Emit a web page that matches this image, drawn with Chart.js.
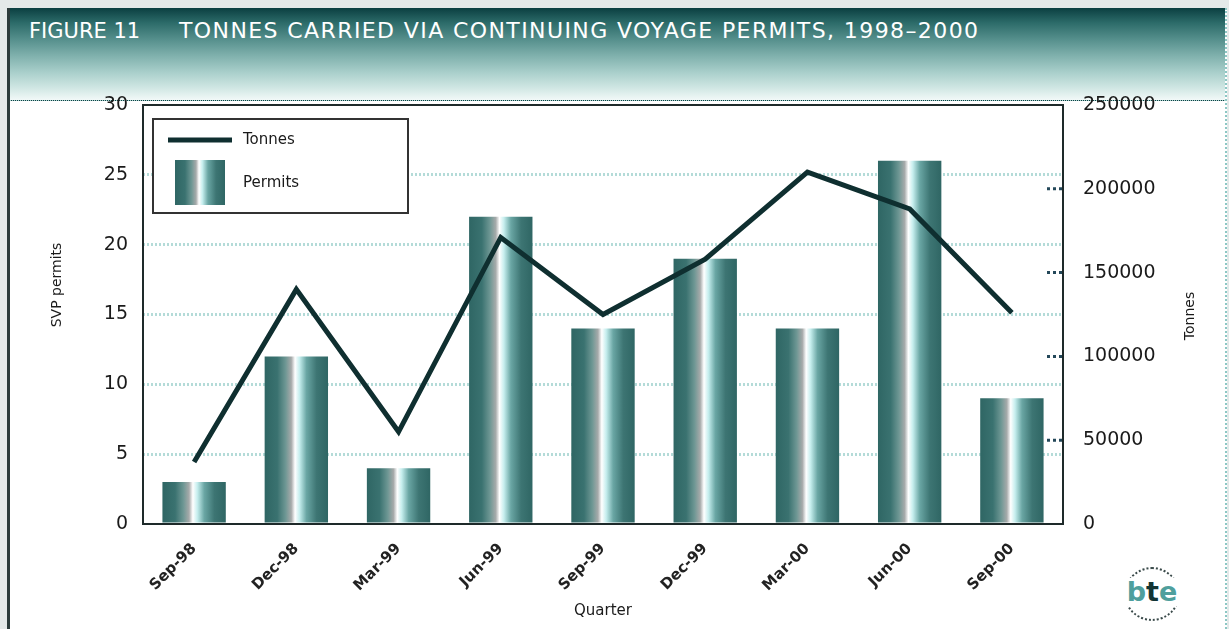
<!DOCTYPE html>
<html>
<head>
<meta charset="utf-8">
<script src="https://cdn.jsdelivr.net/npm/chart.js@4"></script>
<style>
    html, body { margin: 0; padding: 0; }
    body { width: 1229px; height: 629px; background: #e4e9e9; position: relative; overflow: hidden; font-family: 'DejaVu Sans', sans-serif; }
    #panel { position: absolute; left: 7px; top: 8px; width: 1215px; height: 621px; background: #fff; border-left: 3px solid #2c3b3b; border-right: 2px dotted #8cc7c4; }
    #head { position: absolute; left: 0; top: 0; right: 0; height: 92px;
        background: linear-gradient(to bottom, #0b3f41 0%, #2c6b69 16%, #558f8c 34%, #80b1ad 52%, #a9cfcb 70%, #d3e8e5 88%, #f2f9f8 100%);
        border-bottom: 1px dotted #a8cfcc; }
    #fig { position: absolute; left: 19px; top: 11px; color: #fff; font-size: 21px; white-space: pre; }
    #title { position: absolute; left: 169px; top: 10px; color: #fff; font-size: 22px; white-space: pre; letter-spacing: 1.4px; }
    #logo { position: absolute; left: 1124px; top: 567px; width: 52px; height: 50px; border: 2px dotted #3a4a4a; border-radius: 50%; }
    #logo div { position: absolute; left: -8px; top: 9px; width: 68px; text-align: center; font: bold 27px 'DejaVu Sans', sans-serif; color: #4f9f9d; background: #fff; line-height: 28px; }
    #logo b { color: #123434; }
    canvas { position: absolute; left: 0; top: 0; }
</style>
</head>
<body>
<div id="panel">
    <div id="head">
        <div id="fig">FIGURE 11</div>
        <div id="title">TONNES CARRIED VIA CONTINUING VOYAGE PERMITS, 1998–2000</div>
    </div>
</div>
<div id="logo"><div>b<b>t</b>e</div></div>
<canvas id="chart" width="1229" height="629"></canvas>
<script>
var quarters = ['Sep-98', 'Dec-98', 'Mar-99', 'Jun-99', 'Sep-99', 'Dec-99', 'Mar-00', 'Jun-00', 'Sep-00'];
var permits = [3, 12, 4, 22, 14, 19, 14, 26, 9];
var tonnes = [37000, 140000, 55000, 171000, 125000, 158000, 210000, 188000, 126000];
var permitTicks = [0, 5, 10, 15, 20, 25, 30];
var tonneTicks = [0, 50000, 100000, 150000, 200000, 250000];

var LINE = '#0f2f30';
var BAR_SHARE = 0.62;

function barGradient(ctx, x0, x1) {
    var g = ctx.createLinearGradient(x0, 0, x1, 0);
    g.addColorStop(0, '#2f6664');
    g.addColorStop(0.2, '#3a7270');
    g.addColorStop(0.33, '#6e9794');
    g.addColorStop(0.42, '#a6aaaa');
    g.addColorStop(0.48, '#ffffff');
    g.addColorStop(0.55, '#c6eeee');
    g.addColorStop(0.66, '#6aa6a4');
    g.addColorStop(0.82, '#3d7573');
    g.addColorStop(1, '#2f6664');
    return g;
}

Chart.defaults.font.family = "'DejaVu Sans', sans-serif";
Chart.defaults.color = '#1a1a1a';

var extras = {
    id: 'extras',
    afterDraw: function (chart) {
        var ctx = chart.ctx;
        var a = chart.chartArea;
        var y1 = chart.scales.y1;
        ctx.save();

        // dotted tick marks inside the right axis
        ctx.strokeStyle = '#24485a';
        ctx.lineWidth = 3;
        ctx.setLineDash([3, 3]);
        tonneTicks.forEach(function (v) {
            if (v === 0 || v === 250000) return;
            var y = y1.getPixelForValue(v);
            ctx.beginPath();
            ctx.moveTo(a.right - 16, y);
            ctx.lineTo(a.right, y);
            ctx.stroke();
        });
        ctx.setLineDash([]);

        // plot frame
        ctx.strokeStyle = '#1e2a2a';
        ctx.lineWidth = 2;
        ctx.strokeRect(a.left, a.top, a.right - a.left, a.bottom - a.top);

        // axis titles
        ctx.fillStyle = '#1a1a1a';
        ctx.font = "14px 'DejaVu Sans', sans-serif";
        ctx.textAlign = 'center';
        ctx.textBaseline = 'middle';
        ctx.translate(57, 285);
        ctx.rotate(-Math.PI / 2);
        ctx.fillText('SVP permits', 0, 0);
        ctx.setTransform(1, 0, 0, 1, 0, 0);
        ctx.translate(1190, 316);
        ctx.rotate(-Math.PI / 2);
        ctx.fillText('Tonnes', 0, 0);
        ctx.setTransform(1, 0, 0, 1, 0, 0);

        // legend box
        var lx = a.left + 10, ly = a.top + 14;
        ctx.fillStyle = '#fff';
        ctx.fillRect(lx, ly, 255, 94);
        ctx.strokeStyle = '#333';
        ctx.lineWidth = 2;
        ctx.strokeRect(lx, ly, 255, 94);
        ctx.strokeStyle = LINE;
        ctx.lineWidth = 5;
        ctx.beginPath();
        ctx.moveTo(lx + 15, ly + 21);
        ctx.lineTo(lx + 79, ly + 21);
        ctx.stroke();
        ctx.fillStyle = barGradient(ctx, lx + 22, lx + 72);
        ctx.fillRect(lx + 22, ly + 41, 50, 45);
        ctx.fillStyle = '#1a1a1a';
        ctx.font = "15px 'DejaVu Sans', sans-serif";
        ctx.textAlign = 'left';
        ctx.fillText(chart.data.datasets[0].label, lx + 90, ly + 21);
        ctx.fillText(chart.data.datasets[1].label, lx + 90, ly + 64);
        ctx.restore();
    }
};

new Chart(document.getElementById('chart').getContext('2d'), {
    data: {
        labels: quarters,
        datasets: [
            {
                type: 'line',
                label: 'Tonnes',
                data: tonnes,
                yAxisID: 'y1',
                borderColor: LINE,
                borderWidth: 5,
                pointRadius: 0,
                tension: 0,
                order: 0
            },
            {
                type: 'bar',
                label: 'Permits',
                data: permits,
                yAxisID: 'y',
                barPercentage: BAR_SHARE,
                categoryPercentage: 1,
                backgroundColor: function (c) {
                    var xs = c.chart.scales.x;
                    if (!xs || typeof c.dataIndex !== 'number') return '#336b68';
                    var cx = xs.getPixelForValue(c.dataIndex);
                    var w = xs.width / quarters.length * BAR_SHARE;
                    if (!isFinite(cx) || !isFinite(w) || w <= 0) return '#336b68';
                    return barGradient(c.chart.ctx, cx - w / 2, cx + w / 2);
                },
                borderWidth: 0,
                order: 1
            }
        ]
    },
    options: {
        responsive: false,
        animation: false,
        layout: { padding: { top: 105, left: 0, right: 0, bottom: 0 } },
        plugins: {
            legend: { display: false },
            tooltip: { enabled: false }
        },
        scales: {
            x: {
                offset: true,
                afterFit: function (s) { s.height = 105; },
                grid: { display: false },
                border: { display: false },
                ticks: { maxRotation: 45, minRotation: 45, padding: 8, font: { size: 15, weight: 'bold' }, color: '#222' },
                title: { display: true, text: 'Quarter', font: { size: 15 }, padding: { top: 0, bottom: 9 }, color: '#1a1a1a' }
            },
            y: {
                position: 'left',
                min: 0,
                max: 30,
                afterFit: function (s) { s.width = 143; },
                afterBuildTicks: function (s) { s.ticks = permitTicks.map(function (v) { return { value: v }; }); },
                border: { display: false, dash: [2, 2] },
                grid: {
                    drawTicks: false,
                    lineWidth: 3,
                    color: function (c) { return (c.tick && (c.tick.value === 0 || c.tick.value === 30)) ? 'rgba(0,0,0,0)' : '#b4dbd8'; }
                },
                ticks: { padding: 15, font: { size: 19 }, color: '#1a1a1a' }
            },
            y1: {
                position: 'right',
                min: 0,
                max: 250000,
                afterFit: function (s) { s.width = 166; },
                afterBuildTicks: function (s) { s.ticks = tonneTicks.map(function (v) { return { value: v }; }); },
                border: { display: false },
                grid: { display: false },
                ticks: {
                    padding: 12,
                    font: { size: 19 },
                    color: '#1a1a1a',
                    callback: function (v) { return String(v); }
                }
            }
        }
    },
    plugins: [extras]
});
</script>
</body>
</html>
